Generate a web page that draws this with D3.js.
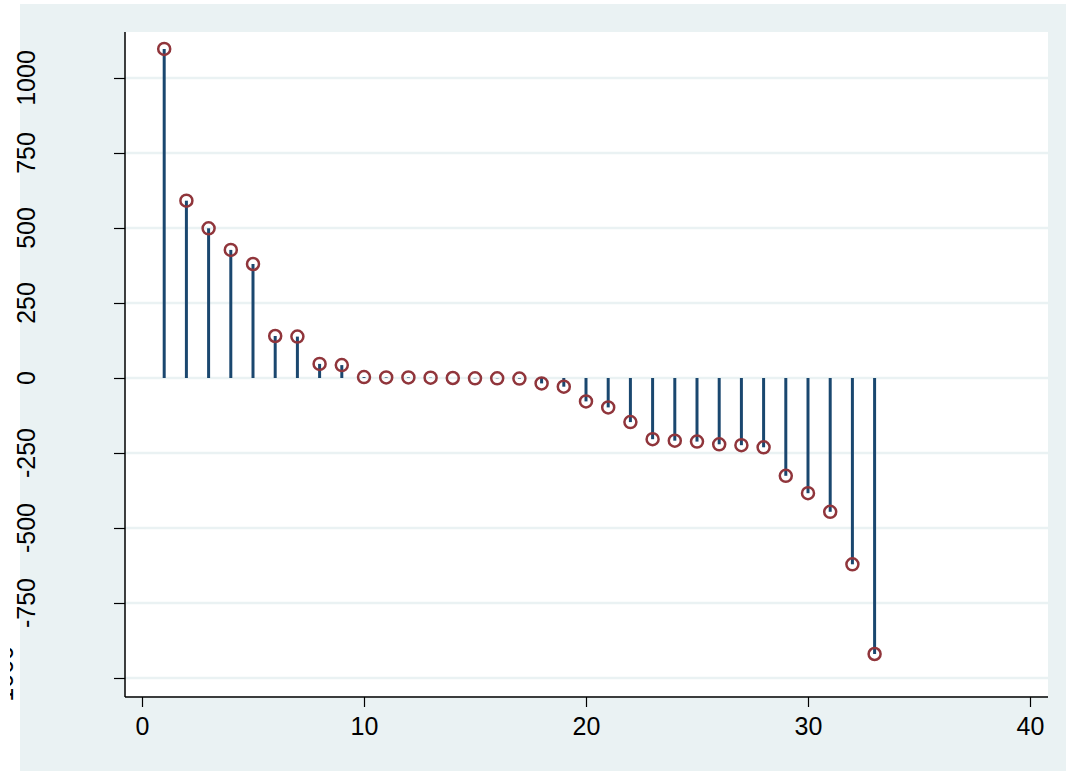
<!DOCTYPE html>
<html>
<head>
<meta charset="utf-8">
<script src="https://cdn.jsdelivr.net/npm/d3@7"></script>
<style>
  body { margin: 0; background: #fff; }
  text { font-family: "Liberation Sans", Arial, sans-serif; }
</style>
</head>
<body>
<div id="chart"></div>
<script>
// data
var obs = [1, 2, 3, 4, 5, 6, 7, 8, 9, 10, 11, 12, 13, 14, 15, 16, 17,
    18, 19, 20, 21, 22, 23, 24, 25, 26, 27, 28, 29, 30, 31, 32, 33];
var values = [1097, 591, 499, 427, 380, 140, 138, 47, 43, 3, 2, 2, 1, 0, -1, -1, -2,
    -18, -29, -78, -98, -147, -204, -209, -212, -221, -224, -231, -326, -384, -446, -621, -920];
var xTicks = [0, 10, 20, 30, 40];
var yTicks = [-1000, -750, -500, -250, 0, 250, 500, 750, 1000];

var W = 1066, H = 771;
var margin = { top: 32, right: 18, bottom: 75, left: 125 },
    width = W - margin.left - margin.right,
    height = H - margin.top - margin.bottom;

var svg = d3.select("#chart")
    .append("svg")
    .attr("width", W)
    .attr("height", H);

// outer background
svg.append("rect")
    .attr("x", 20).attr("y", 4)
    .attr("width", W - 20).attr("height", H - 4)
    .attr("fill", "#eaf2f3");

var g = svg.append("g")
    .attr("transform", "translate(" + margin.left + "," + margin.top + ")");

g.append("rect")
    .attr("width", width)
    .attr("height", height)
    .attr("fill", "#fff");

var x = d3.scaleLinear()
    .domain([0, 40])
    .range([17, 905]);

var y = d3.scaleLinear()
    .domain([-1000, 1000])
    .range([646, 46]);

// grid lines
g.append("g")
    .selectAll("line")
    .data(yTicks)
    .enter()
    .append("line")
    .attr("x1", 0).attr("x2", width)
    .attr("y1", d => y(d)).attr("y2", d => y(d))
    .attr("stroke", "#eaf2f3")
    .attr("stroke-width", 2.5);

// sticks
g.append("g")
    .selectAll("line")
    .data(values)
    .enter()
    .append("line")
    .attr("x1", (d, i) => x(obs[i]))
    .attr("x2", (d, i) => x(obs[i]))
    .attr("y1", y(0))
    .attr("y2", d => y(d))
    .attr("stroke", "#1a476f")
    .attr("stroke-width", 3);

// markers
g.append("g")
    .selectAll("circle")
    .data(values)
    .enter()
    .append("circle")
    .attr("cx", (d, i) => x(obs[i]))
    .attr("cy", d => y(d))
    .attr("r", 6)
    .attr("fill", "none")
    .attr("stroke", "#90353b")
    .attr("stroke-width", 2.5);

// x axis
var xAxis = g.append("g")
    .attr("transform", "translate(0," + (height + 1) + ")")
    .call(d3.axisBottom(x).tickValues(xTicks).tickSize(10).tickPadding(10));
xAxis.select(".domain")
    .attr("d", "M0,0H" + width)
    .attr("stroke", "#000")
    .attr("stroke-width", 1.5);
xAxis.selectAll(".tick line").attr("stroke", "#000").attr("stroke-width", 1.2);
xAxis.selectAll(".tick text")
    .style("font-size", "25px")
    .attr("fill", "#000")
    .attr("font-family", "Liberation Sans, Arial, sans-serif");

// y axis
var yAxis = g.append("g")
    .call(d3.axisLeft(y).tickValues(yTicks).tickSize(11).tickFormat(""));
yAxis.select(".domain")
    .attr("d", "M0,0V" + (height + 1))
    .attr("stroke", "#000")
    .attr("stroke-width", 1.5);
yAxis.selectAll(".tick line").attr("stroke", "#000").attr("stroke-width", 1.2);

// y tick labels, rotated (the -1000 one is cut off at the left, as in the original)
svg.append("clipPath")
    .attr("id", "lblclip")
    .append("rect")
    .attr("x", 10).attr("y", 0)
    .attr("width", 110).attr("height", H);

svg.append("g")
    .attr("clip-path", "url(#lblclip)")
    .selectAll("text")
    .data(yTicks)
    .enter()
    .append("text")
    .attr("transform", d => "translate(" + (d === -1000 ? 13 : 35) + "," + (margin.top + y(d)) + ") rotate(-90)")
    .attr("text-anchor", "middle")
    .style("font-size", "25px")
    .attr("fill", "#000")
    .text(d => d);
</script>
</body>
</html>
